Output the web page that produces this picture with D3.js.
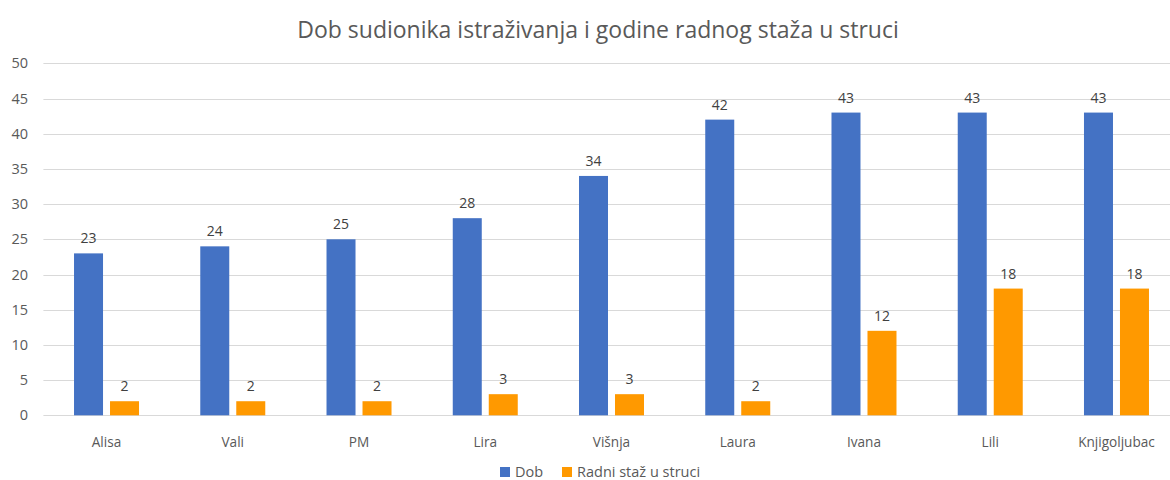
<!DOCTYPE html>
<html lang="hr">
<head>
<meta charset="UTF-8">
<title>Dob sudionika istraživanja</title>
<script src="https://d3js.org/d3.v7.min.js"></script>
<style>
  body { margin: 0; background: #fff; }
  text { font-family: "Open Sans", "Noto Sans", sans-serif; fill: #595959; }
</style>
</head>
<body>
<svg id="chart" width="1170" height="480"></svg>
<script>
// data
var names = ["Alisa", "Vali", "PM", "Lira", "Višnja", "Laura", "Ivana", "Lili", "Knjigoljubac"];
var seriesNames = ["Dob", "Radni staž u struci"];
var dob = [23, 24, 25, 28, 34, 42, 43, 43, 43];
var staz = [2, 2, 2, 3, 3, 2, 12, 18, 18];
var yTicks = [0, 5, 10, 15, 20, 25, 30, 35, 40, 45, 50];
var colors = ["#4472C4", "#FF9900"];

var svg = d3.select("#chart"),
    width = +svg.attr("width"),
    height = +svg.attr("height");

var rows = names.map(function(n, i) { return { name: n, values: [dob[i], staz[i]] }; });

// scales
var x0 = d3.scaleBand()
    .domain(names)
    .range([43.4, 1179.6])
    .padding(0);

var groupW = 65;
var x1 = d3.scaleBand()
    .domain(seriesNames)
    .range([(x0.bandwidth() - groupW) / 2, (x0.bandwidth() + groupW) / 2])
    .paddingInner(0.1944)
    .paddingOuter(0);

var y = d3.scaleLinear()
    .domain([0, 50])
    .range([415.3, 63.3]);

// gridlines
svg.append("g")
  .selectAll("line")
  .data(yTicks)
  .enter()
  .append("line")
    .attr("x1", 43.4)
    .attr("x2", width)
    .attr("y1", function(d) { return Math.round(y(d)) + 0.5; })
    .attr("y2", function(d) { return Math.round(y(d)) + 0.5; })
    .attr("stroke", "#d9d9d9")
    .attr("stroke-width", 1);

// y axis labels
svg.append("g")
  .selectAll("text")
  .data(yTicks)
  .enter()
  .append("text")
    .attr("x", 28)
    .attr("y", function(d) { return y(d); })
    .attr("dy", "0.35em")
    .attr("text-anchor", "end")
    .style("font-size", "14.5px")
    .text(function(d) { return d; });

// bars
var groups = svg.append("g")
  .selectAll("g")
  .data(rows)
  .enter()
  .append("g")
    .attr("transform", function(d) { return "translate(" + x0(d.name) + ",0)"; });

groups.selectAll("rect")
  .data(function(d) { return d.values.map(function(v, i) { return { s: seriesNames[i], v: v, i: i }; }); })
  .enter()
  .append("rect")
    .attr("x", function(d) { return x1(d.s); })
    .attr("y", function(d) { return y(d.v); })
    .attr("width", x1.bandwidth())
    .attr("height", function(d) { return y(0) - y(d.v); })
    .attr("fill", function(d) { return colors[d.i]; });

// value labels
groups.selectAll("text")
  .data(function(d) { return d.values.map(function(v, i) { return { s: seriesNames[i], v: v }; }); })
  .enter()
  .append("text")
    .attr("x", function(d) { return x1(d.s) + x1.bandwidth() / 2; })
    .attr("y", function(d) { return y(d.v) - 10; })
    .attr("text-anchor", "middle")
    .style("font-size", "14px")
    .style("fill", "#404040")
    .text(function(d) { return d.v; });

// category labels
svg.append("g")
  .selectAll("text")
  .data(names)
  .enter()
  .append("text")
    .attr("x", function(d) { return x0(d) + x0.bandwidth() / 2; })
    .attr("y", 447)
    .attr("text-anchor", "middle")
    .style("font-size", "13.6px")
    .text(function(d) { return d; });

// title
svg.append("text")
  .attr("x", 598)
  .attr("y", 38)
  .attr("text-anchor", "middle")
  .style("font-size", "23px")
  .text("Dob sudionika istraživanja i godine radnog staža u struci");

// legend
var legendX = [500, 562];
var legend = svg.append("g")
  .selectAll("g")
  .data(seriesNames)
  .enter()
  .append("g")
    .attr("transform", function(d, i) { return "translate(" + legendX[i] + ",467)"; });

legend.append("rect")
  .attr("width", 10)
  .attr("height", 10)
  .attr("fill", function(d, i) { return colors[i]; });

legend.append("text")
  .attr("x", 15)
  .attr("y", 5)
  .attr("dy", "0.35em")
  .style("font-size", "14.5px")
  .text(function(d) { return d; });
</script>
</body>
</html>
